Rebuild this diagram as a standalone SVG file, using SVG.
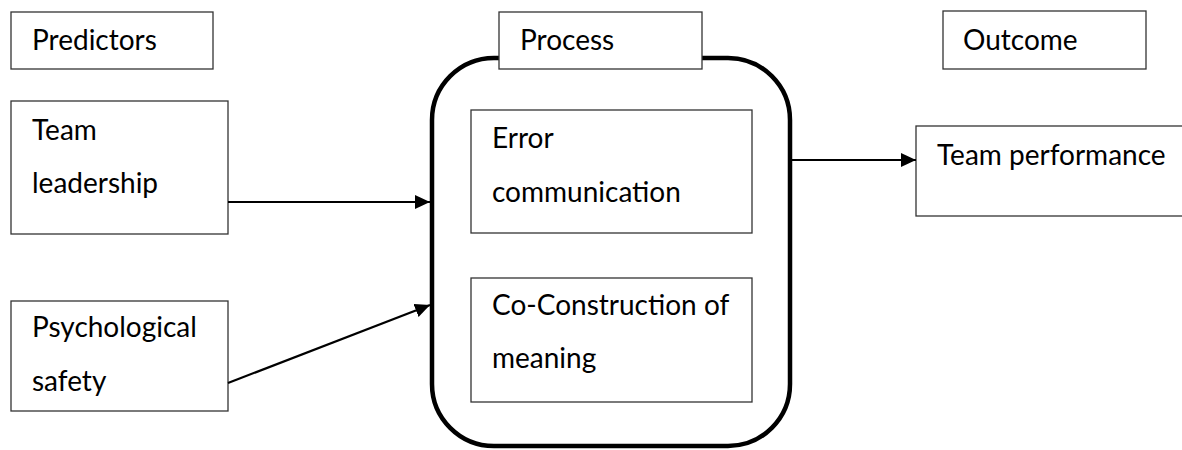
<svg xmlns="http://www.w3.org/2000/svg" width="1182" height="450" viewBox="0 0 1182 450">
  <style>
    .box { fill: #ffffff; stroke: #333333; stroke-width: 1.3; }
    .frame { fill: #ffffff; stroke: #000000; stroke-width: 4.5; }
    .lbl { font-family: Lato, "Liberation Sans", sans-serif; font-size: 28px; fill: #000000; }
    .link { fill: none; stroke: #000000; stroke-width: 2.2; }
  </style>
  <defs>
    <marker id="arrow" viewBox="0 0 15 14" refX="15" refY="7" markerWidth="15" markerHeight="14" markerUnits="userSpaceOnUse" orient="auto">
      <path d="M0,0 L15,7 L0,14 Z" fill="#000000"/>
    </marker>
  </defs>
  <rect width="1182" height="450" fill="#ffffff"/>

  <!-- process container -->
  <g id="process-frame">
    <rect class="frame" x="432" y="58" width="358" height="388" rx="62" ry="62"/>
  </g>

  <!-- column headings -->
  <g id="predictors">
    <rect class="box" x="11" y="12" width="202" height="57"/>
    <text class="lbl" x="32" y="50">Predictors</text>
  </g>
  <g id="process">
    <rect class="box" x="499" y="12" width="203" height="57"/>
    <text class="lbl" x="520" y="50">Process</text>
  </g>
  <g id="outcome">
    <rect class="box" x="943" y="11" width="203" height="58"/>
    <text class="lbl" x="963" y="50">Outcome</text>
  </g>

  <!-- predictors -->
  <g id="team-leadership">
    <rect class="box" x="11" y="101" width="217" height="133"/>
    <text class="lbl" x="32" y="140">Team</text>
    <text class="lbl" x="32" y="193">leadership</text>
  </g>
  <g id="psychological-safety">
    <rect class="box" x="11" y="301" width="217" height="110"/>
    <text class="lbl" x="32" y="337">Psychological</text>
    <text class="lbl" x="32" y="391">safety</text>
  </g>

  <!-- process elements -->
  <g id="error-communication">
    <rect class="box" x="471" y="110" width="281" height="123"/>
    <text class="lbl" x="492" y="148">Error</text>
    <text class="lbl" x="492" y="202">communication</text>
  </g>
  <g id="co-construction">
    <rect class="box" x="471" y="278" width="281" height="124"/>
    <text class="lbl" x="492" y="315">Co-Construction of</text>
    <text class="lbl" x="492" y="368">meaning</text>
  </g>

  <!-- outcome -->
  <g id="team-performance">
    <rect class="box" x="916" y="126" width="280" height="90"/>
    <text class="lbl" x="937" y="165">Team performance</text>
  </g>

  <!-- connectors -->
  <g id="connectors">
    <line class="link" x1="228" y1="202" x2="430" y2="202" marker-end="url(#arrow)"/>
    <line class="link" x1="228" y1="383" x2="430" y2="305" marker-end="url(#arrow)"/>
    <line class="link" x1="792" y1="160" x2="916" y2="160" marker-end="url(#arrow)"/>
  </g>
</svg>
